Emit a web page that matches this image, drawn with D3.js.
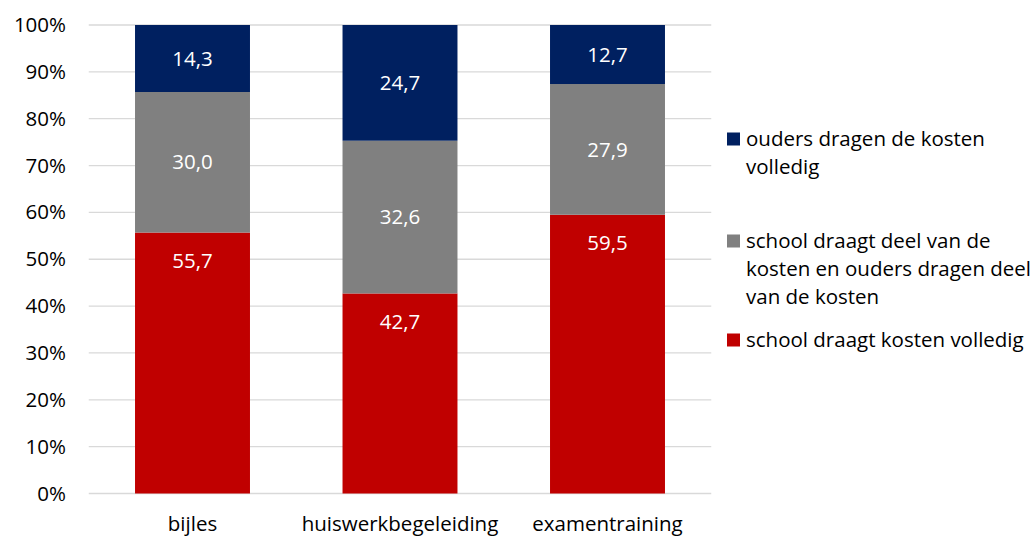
<!DOCTYPE html>
<html lang="nl">
<head>
<meta charset="UTF-8">
<title>Kosten bijles, huiswerkbegeleiding, examentraining</title>
<script src="https://cdn.jsdelivr.net/npm/d3@7"></script>
<style>
  body { margin: 0; padding: 0; background: #fff; overflow: hidden; }
  svg { display: block; font-family: "Open Sans", "Noto Sans", sans-serif; }
</style>
</head>
<body>
<svg id="chart" width="1036" height="536"></svg>
<script>
// data
var categories = ["bijles", "huiswerkbegeleiding", "examentraining"];
var seriesNames = [
  "school draagt kosten volledig",
  "school draagt deel van de kosten en ouders dragen deel van de kosten",
  "ouders dragen de kosten volledig"
];
var schoolVolledig = [55.7, 42.7, 59.5];
var deelsDeels = [30.0, 32.6, 27.9];
var oudersVolledig = [14.3, 24.7, 12.7];
var yTicks = [0, 10, 20, 30, 40, 50, 60, 70, 80, 90, 100];
// legend lines (wrapped like the original), top to bottom
var legendLines = [
  ["ouders dragen de kosten", "volledig"],
  ["school draagt deel van de", "kosten en ouders dragen deel", "van de kosten"],
  ["school draagt kosten volledig"]
];

var colors = ["#c00000", "#808080", "#002060"];
var fs = 20.5;

var svg = d3.select("#chart");

var x = d3.scaleBand().domain(categories).range([88.75, 711.25]).paddingInner(0.446).paddingOuter(0.223);
var y = d3.scaleLinear().domain([0, 100]).range([493.5, 25]);

// gridlines
svg.append("g").selectAll("line").data(yTicks).enter().append("line")
  .attr("x1", 88.75).attr("x2", 711.25)
  .attr("y1", d => y(d)).attr("y2", d => y(d))
  .attr("stroke", "#d9d9d9").attr("stroke-width", 1.3);

// y axis labels
var yAxis = d3.axisLeft(y).tickValues(yTicks).tickFormat(d => d + "%").tickSize(0).tickPadding(0);
var gy = svg.append("g").attr("transform", "translate(66,0)").call(yAxis);
gy.select(".domain").remove();
gy.selectAll("text").attr("font-size", fs).attr("fill", "#000").attr("font-family", "Open Sans, sans-serif");

// x axis labels
var xAxis = d3.axisBottom(x).tickSize(0).tickPadding(0);
var gx = svg.append("g").attr("transform", "translate(0,516.5)").call(xAxis);
gx.select(".domain").remove();
gx.selectAll("text").attr("font-size", fs).attr("fill", "#000").attr("font-family", "Open Sans, sans-serif");

// stacked data
var rows = categories.map((c, i) => ({ cat: c, s0: schoolVolledig[i], s1: deelsDeels[i], s2: oudersVolledig[i] }));
var stack = d3.stack().keys(["s0", "s1", "s2"]);
var layers = stack(rows);

var lg = svg.append("g").selectAll("g").data(layers).enter().append("g")
  .attr("fill", (d, i) => colors[i]);

lg.selectAll("rect").data(d => d).enter().append("rect")
  .attr("x", d => x(d.data.cat))
  .attr("width", x.bandwidth())
  .attr("y", d => y(Math.min(d[1], 100)))
  .attr("height", d => y(d[0]) - y(Math.min(d[1], 100)));

// bottom series labels sit near the top of the segment, the others centered
lg.each(function (layer, li) {
  d3.select(this).selectAll("text").data(layer).enter().append("text")
    .attr("x", d => x(d.data.cat) + x.bandwidth() / 2)
    .attr("y", d => li === 0 ? y(d[1]) + 28.5 : y((d[0] + Math.min(d[1], 100)) / 2))
    .attr("dy", "0.35em")
    .attr("text-anchor", "middle")
    .attr("font-size", fs)
    .attr("fill", "#fff")
    .text(d => d3.format(".1f")(d[1] - d[0]).replace(".", ","));
});

// legend
var legendColors = [colors[2], colors[1], colors[0]];
var legendTop = [139, 241, 340];
var leg = svg.append("g");
legendLines.forEach(function (lines, i) {
  leg.append("rect")
    .attr("x", 727).attr("y", legendTop[i] - 6.5)
    .attr("width", 13).attr("height", 13)
    .attr("fill", legendColors[i]);
  var t = leg.append("text")
    .attr("x", 746).attr("y", legendTop[i])
    .attr("font-size", fs).attr("fill", "#000");
  lines.forEach(function (ln, j) {
    t.append("tspan").attr("x", 746).attr("dy", j === 0 ? "0.35em" : 28).text(ln);
  });
});
</script>
</body>
</html>
